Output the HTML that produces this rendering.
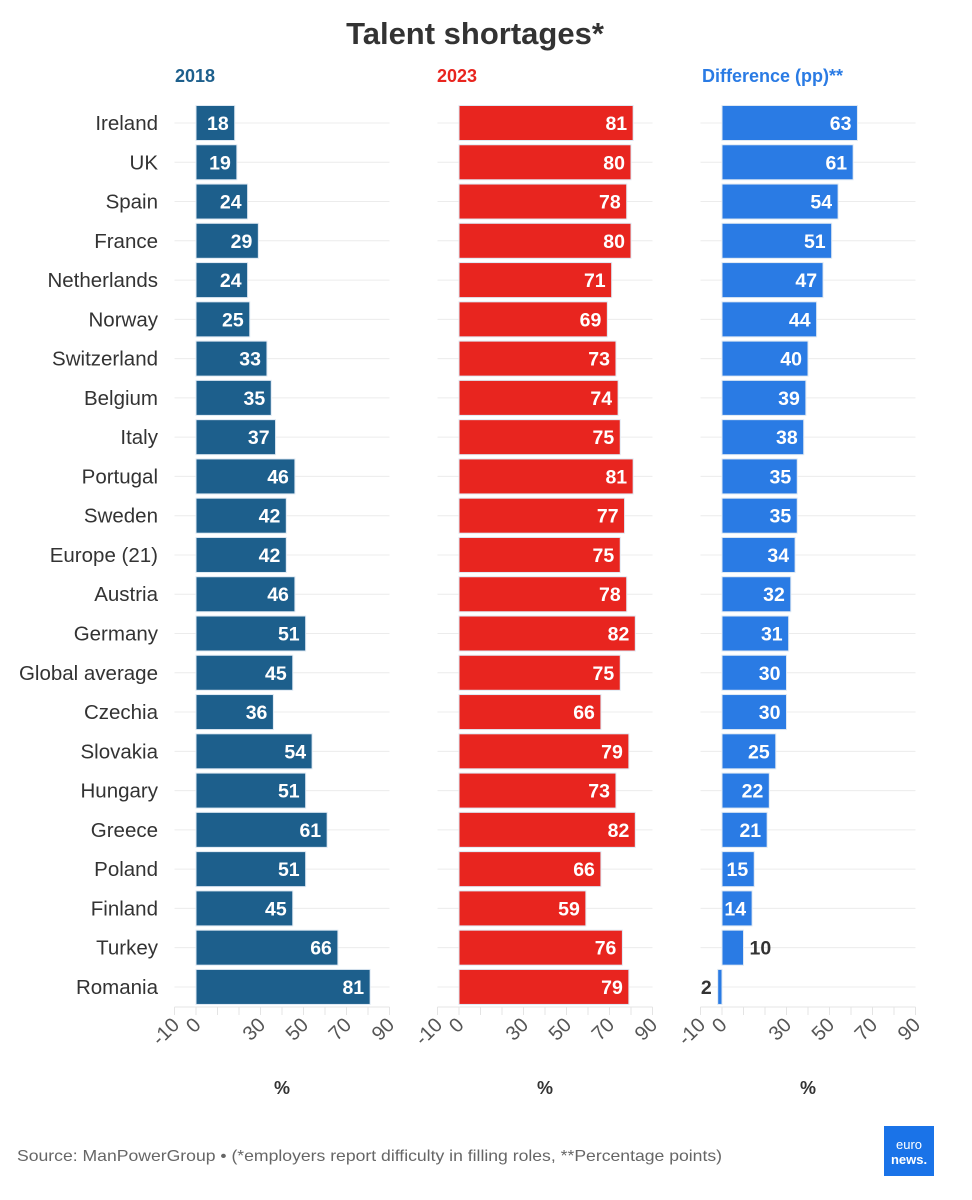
<!DOCTYPE html>
<html><head><meta charset="utf-8"><style>
body{margin:0;background:#fff;}
svg{display:block;font-family:"Liberation Sans","DejaVu Sans",sans-serif;}
</style></head><body>
<svg id="chart" width="972" height="1200">
<text x="475" y="44" text-anchor="middle" font-size="31" font-weight="bold" fill="#333">Talent shortages*</text>
<text x="175" y="82" font-size="18" font-weight="bold" fill="#1d5f8c">2018</text>
<text x="437" y="82" font-size="18" font-weight="bold" fill="#e8251f">2023</text>
<text x="702" y="82" font-size="18" font-weight="bold" fill="#2a7be4">Difference (pp)**</text>
<g id="plot"></g>
<text x="17" y="1161" font-size="16" fill="#666" textLength="705" lengthAdjust="spacingAndGlyphs">Source: ManPowerGroup • (*employers report difficulty in filling roles, **Percentage points)</text>
<g>
<rect x="884" y="1126" width="50" height="50" fill="#1a73e8"/>
<text x="909" y="1149" text-anchor="middle" font-size="13" fill="#fff">euro</text>
<text x="909" y="1164" text-anchor="middle" font-size="13" font-weight="bold" fill="#fff">news.</text>
</g>
</svg>
<script>
const categories=["Ireland","UK","Spain","France","Netherlands","Norway","Switzerland","Belgium","Italy","Portugal","Sweden","Europe (21)","Austria","Germany","Global average","Czechia","Slovakia","Hungary","Greece","Poland","Finland","Turkey","Romania"];
const values2018=[18,19,24,29,24,25,33,35,37,46,42,42,46,51,45,36,54,51,61,51,45,66,81];
const values2023=[81,80,78,80,71,69,73,74,75,81,77,75,78,82,75,66,79,73,82,66,59,76,79];
const valuesDiff=[63,61,54,51,47,44,40,39,38,35,35,34,32,31,30,30,25,22,21,15,14,10,-2];
const tickValues=[-10,0,10,20,30,40,50,60,70,80,90];
const tickLabels=["-10","0","","","30","","50","","70","","90"];
const NS="http://www.w3.org/2000/svg";
const g=document.getElementById('plot');
function el(tag,attrs,parent){const e=document.createElementNS(NS,tag);for(const k in attrs)e.setAttribute(k,attrs[k]);(parent||g).appendChild(e);return e;}
const rowY=i=>123+i*39.27;
const barH=35;
const panels=[{zero:196,vals:values2018,color:"#1d5f8c",name:"2018"},{zero:459,vals:values2023,color:"#e8251f",name:"2023"},{zero:722,vals:valuesDiff,color:"#2a7be4",name:"difference"}];
const unit=2.15;
categories.forEach((c,i)=>{
  const t=el('text',{x:158,y:rowY(i)+7,'text-anchor':'end','font-size':20.5,fill:'#333'});
  t.textContent=c;
  
  
});
panels.forEach(p=>{
  const sx=v=>p.zero+v*unit;
  const pg=el('g',{});
  
  
  categories.forEach((c,i)=>{el('line',{x1:sx(-10),x2:sx(90),y1:rowY(i),y2:rowY(i),stroke:'#ececec','stroke-width':1},pg);});
  el('line',{x1:sx(-10),x2:sx(90),y1:1007,y2:1007,stroke:'#e4e4e4','stroke-width':1},pg);
  tickValues.forEach((v,k)=>{
    el('line',{x1:sx(v),x2:sx(v),y1:1007,y2:1015,stroke:'#e4e4e4'},pg);
    if(tickLabels[k]){
      const x=sx(v)+6,y=1026;
      const t=el('text',{x:x,y:y,'text-anchor':'end','font-size':20,fill:'#555',transform:`rotate(-45 ${x} ${y})`},pg);
      t.textContent=tickLabels[k];
      
      
    }
  });
  const at=el('text',{x:sx(40),y:1094,'text-anchor':'middle','font-size':18,'font-weight':'bold',fill:'#333'},pg);
  at.textContent='%';
  
  
  p.vals.forEach((v,i)=>{
    const x0=Math.min(sx(0),sx(v)),w=Math.abs(sx(v)-sx(0));
    const r=el('rect',{x:x0,y:rowY(i)-barH/2,width:Math.max(w,1),height:barH,fill:p.color,stroke:'#dfe9f3','stroke-width':1},pg);
    
    
    const lbl=String(Math.abs(v));
    let t;
    if(w>30){t=el('text',{x:sx(v)-6,y:rowY(i)+7,'text-anchor':'end','font-size':19.5,'font-weight':'bold',fill:'#fff'},pg);}
    else if(v<0){t=el('text',{x:sx(v)-6,y:rowY(i)+7,'text-anchor':'end','font-size':19.5,'font-weight':'bold',fill:'#333'},pg);}
    else{t=el('text',{x:sx(v)+6,y:rowY(i)+7,'text-anchor':'start','font-size':19.5,'font-weight':'bold',fill:'#333'},pg);}
    t.textContent=lbl;
    
    
  });
});
</script>
</body></html>
